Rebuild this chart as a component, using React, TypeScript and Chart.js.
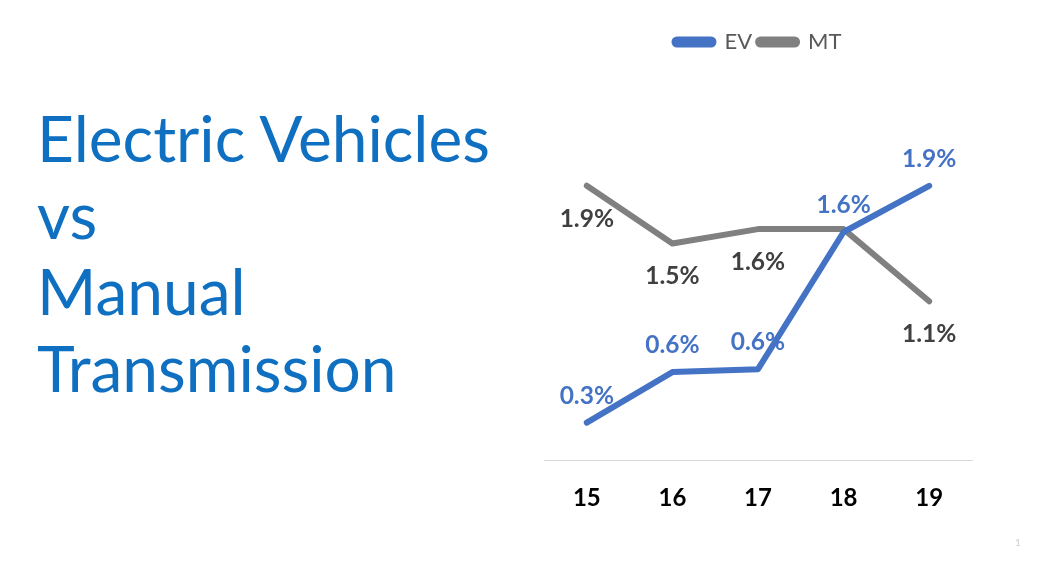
import React, { useEffect, useRef } from "react";
import { Chart, registerables } from "chart.js";

Chart.register(...registerables);

const years = ["15", "16", "17", "18", "19"];
const evValues = [0.26, 0.61, 0.63, 1.58, 1.9];
const mtValues = [1.9, 1.5, 1.6, 1.6, 1.1];
const evLabelShown = [true, true, true, true, true];
const mtLabelShown = [true, true, true, false, true];
const titleLines = ["Electric Vehicles", "vs", "Manual", "Transmission"];

const EV_COLOR = "#4472C4";
const MT_COLOR = "#808080";
const FONT = "Lato, 'Open Sans', sans-serif";

const pointLabelPlugin = {
  id: "pointLabels",
  afterDatasetsDraw(chart: any, _args: any, opts: any) {
    const ctx = chart.ctx;
    const configs = opts.configs || [];
    chart.data.datasets.forEach((ds: any, i: number) => {
      const cfg = configs[i];
      if (!cfg) return;
      const meta = chart.getDatasetMeta(i);
      meta.data.forEach((pt: any, j: number) => {
        if (cfg.show && !cfg.show[j]) return;
        const v = ds.data[j] as number;
        ctx.save();
        ctx.font = `bold 24.5px ${FONT}`;
        ctx.fillStyle = cfg.color;
        ctx.textAlign = "center";
        ctx.textBaseline = "middle";
        ctx.fillText(v.toFixed(1) + "%", pt.x, pt.y + cfg.offset);
        ctx.restore();
      });
    });
  },
};

export default function App() {
  const canvasRef = useRef<HTMLCanvasElement | null>(null);

  useEffect(() => {
    if (!canvasRef.current) return;
    const chart = new Chart(canvasRef.current, {
      type: "line",
      data: {
        labels: years,
        datasets: [
          {
            label: "EV",
            data: evValues,
            borderColor: EV_COLOR,
            backgroundColor: EV_COLOR,
            borderWidth: 6,
            pointRadius: 0,
            tension: 0,
            borderCapStyle: "round",
            borderJoinStyle: "round",
          },
          {
            label: "MT",
            data: mtValues,
            borderColor: MT_COLOR,
            backgroundColor: MT_COLOR,
            borderWidth: 6,
            pointRadius: 0,
            tension: 0,
            borderCapStyle: "round",
            borderJoinStyle: "round",
          },
        ],
      },
      options: {
        responsive: false,
        animation: false,
        devicePixelRatio: 1,
        layout: { padding: { left: 544, right: 65, top: 25, bottom: 34 } },
        plugins: {
          legend: {
            display: true,
            position: "top",
            align: "center",
            labels: {
              boxWidth: 39,
              boxHeight: 5,
              useBorderRadius: true,
              borderRadius: 2.5,
              color: "#595959",
              font: { family: FONT, size: 22 },
              padding: 6,
            },
          },
          tooltip: { enabled: false },
          pointLabels: {
            configs: [
              { color: EV_COLOR, offset: -27, show: evLabelShown },
              { color: "#404040", offset: 33, show: mtLabelShown },
            ],
          },
        } as any,
        scales: {
          x: {
            offset: true,
            grid: { display: false, drawTicks: false },
            border: { display: true, color: "#D9D9D9", width: 1 },
            ticks: {
              color: "#000000",
              padding: 24,
              font: { family: FONT, size: 24, weight: "bold" },
            },
          },
          y: {
            display: false,
            min: 0,
            max: 2.75,
          },
        },
      },
      plugins: [pointLabelPlugin],
    });
    return () => chart.destroy();
  }, []);

  return (
    <div
      style={{
        position: "absolute",
        left: 0,
        top: 0,
        width: 1037,
        height: 571,
        background: "#ffffff",
        overflow: "hidden",
      }}
    >
      <div
        style={{
          position: "absolute",
          left: 37,
          top: 100,
          fontFamily: FONT,
          fontSize: 64,
          lineHeight: "76.5px",
          color: "#0F6FC0",
          whiteSpace: "nowrap",
        }}
      >
        {titleLines.map((t) => (
          <div key={t}>{t}</div>
        ))}
      </div>
      <canvas
        ref={canvasRef}
        width={1037}
        height={571}
        style={{ position: "absolute", left: 0, top: 0, width: 1037, height: 571 }}
      />
      <div
        style={{
          position: "absolute",
          left: 1015,
          top: 536,
          fontFamily: FONT,
          fontSize: 10,
          color: "#D0D0D0",
        }}
      >
        1
      </div>
    </div>
  );
}
